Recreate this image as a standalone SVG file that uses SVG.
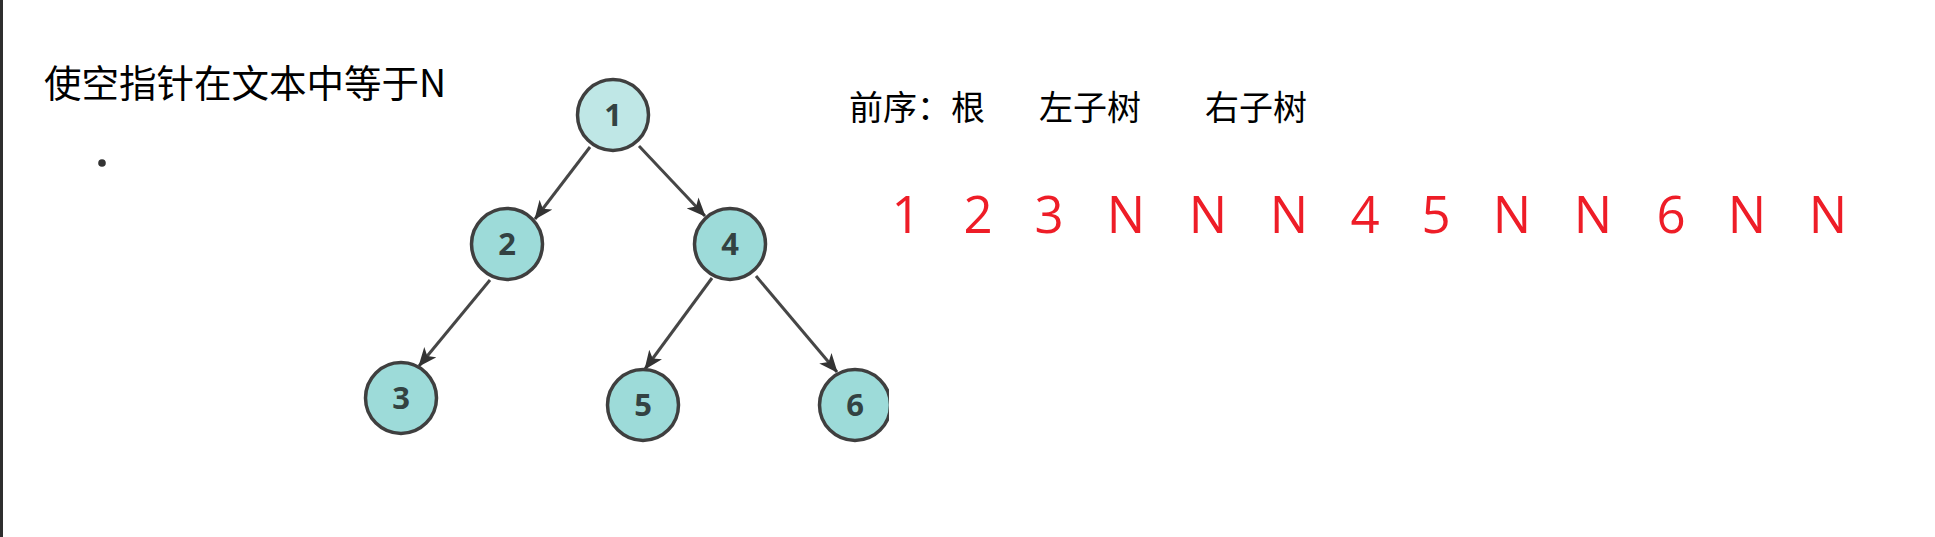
<svg xmlns="http://www.w3.org/2000/svg" width="1935" height="537" viewBox="0 0 1935 537">
<style>
.cjk{font-family:"Noto Sans CJK SC","Noto Sans",sans-serif;fill:#000}
.node circle{stroke:#3f3f3f;stroke-width:3.5;fill:#9ddbd9}
.node text{font-family:"Open Sans","Noto Sans",sans-serif;font-weight:bold;font-size:31px;fill:#334242;text-anchor:middle}
.edge{stroke:#464646;stroke-width:3;fill:none;marker-end:url(#arr)}
.seq{font-family:"Open Sans","Noto Sans",sans-serif;font-size:51px;fill:#ee1d27;text-anchor:middle}
</style>
<defs>
<marker id="arr" viewBox="0 0 19 16" refX="18" refY="8" markerWidth="19" markerHeight="16" markerUnits="userSpaceOnUse" orient="auto">
<path d="M0,0 L19,8 L0,16 L5,8 Z" fill="#333333"/>
</marker>
<clipPath id="clip6"><rect x="810" y="360" width="79" height="95"/></clipPath>
</defs>
<rect x="0" y="0" width="1935" height="537" fill="#ffffff"/>
<rect x="0" y="0" width="3" height="537" fill="#2e2e2e"/>
<g id="title"><text class="cjk" x="44" y="97" font-size="37.5">使空指针在文本中等于N</text></g>
<g id="bullet"><circle cx="102" cy="163" r="3.8" fill="#333"/></g>
<g id="header">
<text class="cjk" x="849" y="120" font-size="34">前序：根</text>
<text class="cjk" x="1039" y="120" font-size="34">左子树</text>
<text class="cjk" x="1205" y="120" font-size="34">右子树</text>
</g>
<g id="connectors">
<line class="edge" x1="590" y1="147" x2="535" y2="219"/>
<line class="edge" x1="639" y1="146" x2="705" y2="216"/>
<line class="edge" x1="490" y1="280" x2="419" y2="366"/>
<line class="edge" x1="712" y1="278" x2="645" y2="369"/>
<line class="edge" x1="756" y1="276" x2="837" y2="372"/>
</g>
<g id="node1" class="node"><circle cx="613" cy="115" r="35.5" style="fill:#bfe7e6"/><text x="613" y="126">1</text></g>
<g id="node2" class="node"><circle cx="507" cy="244" r="35.5"/><text x="507" y="255">2</text></g>
<g id="node4" class="node"><circle cx="730" cy="244" r="35.5"/><text x="730" y="255">4</text></g>
<g id="node3" class="node"><circle cx="401" cy="398" r="35.5"/><text x="401" y="409">3</text></g>
<g id="node5" class="node"><circle cx="643" cy="405" r="35.5"/><text x="643" y="416">5</text></g>
<g id="node6" class="node" clip-path="url(#clip6)"><circle cx="855" cy="405" r="35.5"/><text x="855" y="416">6</text></g>
<g id="sequence">
<text class="seq" x="906" y="233">1</text>
<text class="seq" x="978" y="233">2</text>
<text class="seq" x="1049" y="233">3</text>
<text class="seq" x="1126" y="233">N</text>
<text class="seq" x="1208" y="233">N</text>
<text class="seq" x="1289" y="233">N</text>
<text class="seq" x="1365" y="233">4</text>
<text class="seq" x="1436" y="233">5</text>
<text class="seq" x="1512" y="233">N</text>
<text class="seq" x="1593" y="233">N</text>
<text class="seq" x="1671" y="233">6</text>
<text class="seq" x="1747" y="233">N</text>
<text class="seq" x="1828" y="233">N</text>
</g>
</svg>
